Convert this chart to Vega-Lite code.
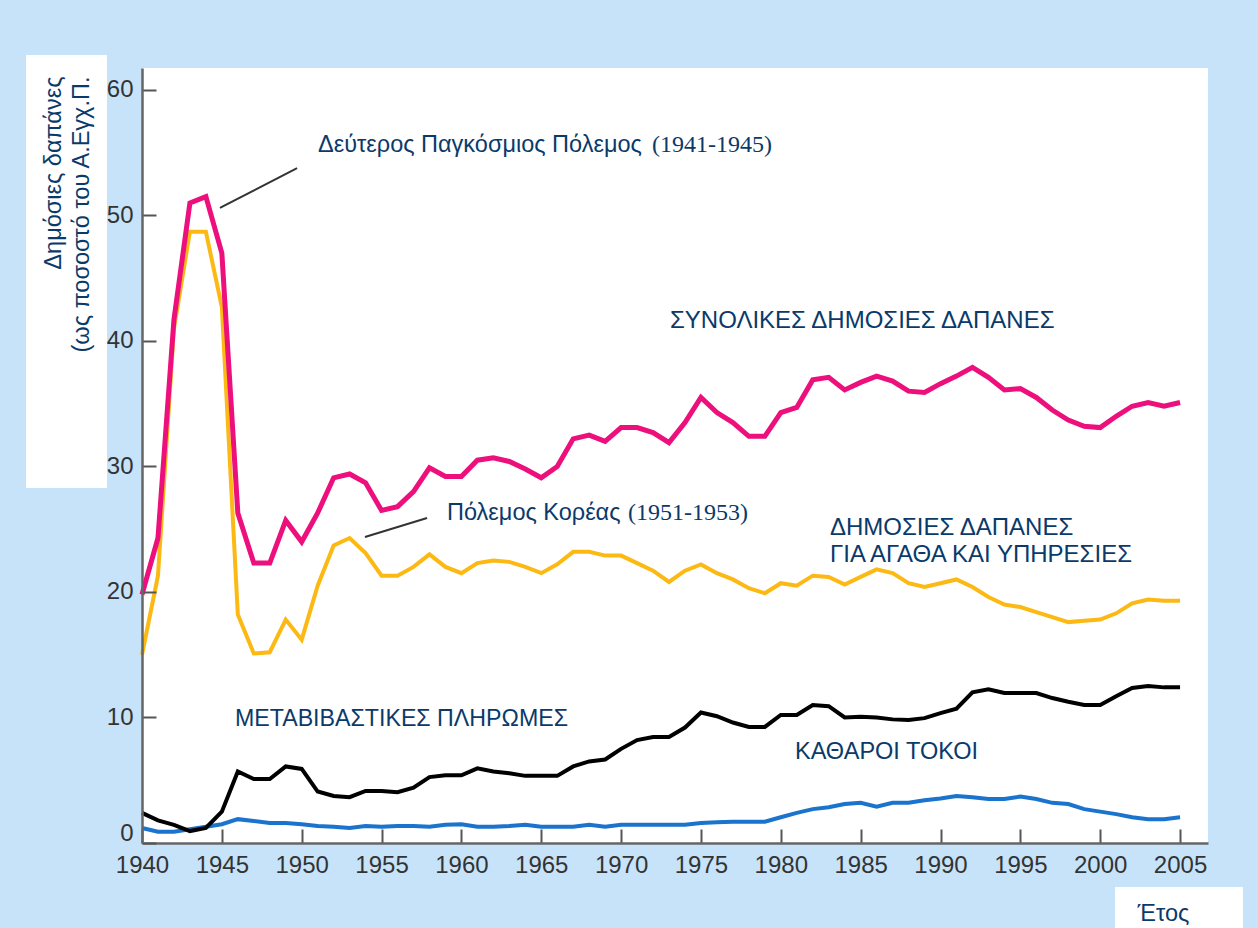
{
  "$schema": "https://vega.github.io/schema/vega-lite/v6.json",
  "width": 1066,
  "height": 775,
  "autosize": {"type": "none"},
  "padding": {"left": 142, "top": 68, "right": 50, "bottom": 85},
  "background": "#c6e3fa",
  "config": {"view": {"fill": "#ffffff", "stroke": null}},
  "datasets": {
    "spending": [
      {"year":1940,"total":19.8,"goods":15.0,"transfers":2.4,"interest":1.2},
      {"year":1941,"total":24.3,"goods":21.3,"transfers":1.8,"interest":0.9},
      {"year":1942,"total":41.7,"goods":41.0,"transfers":1.45,"interest":0.9},
      {"year":1943,"total":51.0,"goods":48.7,"transfers":0.95,"interest":1.1},
      {"year":1944,"total":51.5,"goods":48.7,"transfers":1.2,"interest":1.3},
      {"year":1945,"total":47.0,"goods":42.7,"transfers":2.5,"interest":1.5},
      {"year":1946,"total":26.3,"goods":18.2,"transfers":5.7,"interest":1.9},
      {"year":1947,"total":22.3,"goods":15.1,"transfers":5.1,"interest":1.75},
      {"year":1948,"total":22.3,"goods":15.2,"transfers":5.1,"interest":1.6},
      {"year":1949,"total":25.7,"goods":17.8,"transfers":6.1,"interest":1.6},
      {"year":1950,"total":24.0,"goods":16.2,"transfers":5.9,"interest":1.5},
      {"year":1951,"total":26.3,"goods":20.5,"transfers":4.1,"interest":1.35},
      {"year":1952,"total":29.1,"goods":23.7,"transfers":3.75,"interest":1.3},
      {"year":1953,"total":29.4,"goods":24.3,"transfers":3.65,"interest":1.2},
      {"year":1954,"total":28.7,"goods":23.1,"transfers":4.15,"interest":1.35},
      {"year":1955,"total":26.5,"goods":21.3,"transfers":4.15,"interest":1.3},
      {"year":1956,"total":26.8,"goods":21.3,"transfers":4.05,"interest":1.35},
      {"year":1957,"total":28.0,"goods":22.0,"transfers":4.4,"interest":1.35},
      {"year":1958,"total":29.9,"goods":23.0,"transfers":5.25,"interest":1.3},
      {"year":1959,"total":29.2,"goods":22.0,"transfers":5.4,"interest":1.45},
      {"year":1960,"total":29.2,"goods":21.5,"transfers":5.4,"interest":1.5},
      {"year":1961,"total":30.5,"goods":22.3,"transfers":5.95,"interest":1.3},
      {"year":1962,"total":30.7,"goods":22.5,"transfers":5.7,"interest":1.3},
      {"year":1963,"total":30.4,"goods":22.4,"transfers":5.55,"interest":1.35},
      {"year":1964,"total":29.8,"goods":22.0,"transfers":5.35,"interest":1.45},
      {"year":1965,"total":29.1,"goods":21.5,"transfers":5.35,"interest":1.3},
      {"year":1966,"total":30.0,"goods":22.2,"transfers":5.35,"interest":1.3},
      {"year":1967,"total":32.2,"goods":23.2,"transfers":6.1,"interest":1.3},
      {"year":1968,"total":32.5,"goods":23.2,"transfers":6.5,"interest":1.45},
      {"year":1969,"total":32.0,"goods":22.9,"transfers":6.65,"interest":1.3},
      {"year":1970,"total":33.1,"goods":22.9,"transfers":7.5,"interest":1.45},
      {"year":1971,"total":33.1,"goods":22.3,"transfers":8.2,"interest":1.45},
      {"year":1972,"total":32.7,"goods":21.7,"transfers":8.45,"interest":1.45},
      {"year":1973,"total":31.9,"goods":20.8,"transfers":8.45,"interest":1.45},
      {"year":1974,"total":33.5,"goods":21.7,"transfers":9.2,"interest":1.45},
      {"year":1975,"total":35.5,"goods":22.2,"transfers":10.4,"interest":1.6},
      {"year":1976,"total":34.3,"goods":21.5,"transfers":10.1,"interest":1.65},
      {"year":1977,"total":33.5,"goods":21.0,"transfers":9.6,"interest":1.7},
      {"year":1978,"total":32.4,"goods":20.3,"transfers":9.25,"interest":1.7},
      {"year":1979,"total":32.4,"goods":19.9,"transfers":9.25,"interest":1.7},
      {"year":1980,"total":34.3,"goods":20.7,"transfers":10.2,"interest":2.05},
      {"year":1981,"total":34.7,"goods":20.5,"transfers":10.2,"interest":2.4},
      {"year":1982,"total":36.9,"goods":21.3,"transfers":11.0,"interest":2.7},
      {"year":1983,"total":37.1,"goods":21.2,"transfers":10.9,"interest":2.85},
      {"year":1984,"total":36.1,"goods":20.6,"transfers":10.0,"interest":3.1},
      {"year":1985,"total":36.7,"goods":21.2,"transfers":10.05,"interest":3.2},
      {"year":1986,"total":37.2,"goods":21.8,"transfers":10.0,"interest":2.9},
      {"year":1987,"total":36.8,"goods":21.5,"transfers":9.85,"interest":3.2},
      {"year":1988,"total":36.0,"goods":20.7,"transfers":9.8,"interest":3.2},
      {"year":1989,"total":35.9,"goods":20.4,"transfers":9.95,"interest":3.4},
      {"year":1990,"total":36.6,"goods":20.7,"transfers":10.35,"interest":3.55},
      {"year":1991,"total":37.2,"goods":21.0,"transfers":10.7,"interest":3.75},
      {"year":1992,"total":37.9,"goods":20.4,"transfers":12.0,"interest":3.65},
      {"year":1993,"total":37.1,"goods":19.6,"transfers":12.25,"interest":3.5},
      {"year":1994,"total":36.1,"goods":19.0,"transfers":11.95,"interest":3.5},
      {"year":1995,"total":36.2,"goods":18.8,"transfers":11.95,"interest":3.7},
      {"year":1996,"total":35.5,"goods":18.4,"transfers":11.95,"interest":3.5},
      {"year":1997,"total":34.5,"goods":18.0,"transfers":11.55,"interest":3.2},
      {"year":1998,"total":33.7,"goods":17.6,"transfers":11.25,"interest":3.1},
      {"year":1999,"total":33.2,"goods":17.7,"transfers":11.0,"interest":2.7},
      {"year":2000,"total":33.1,"goods":17.8,"transfers":11.0,"interest":2.5},
      {"year":2001,"total":34.0,"goods":18.3,"transfers":11.7,"interest":2.3},
      {"year":2002,"total":34.8,"goods":19.1,"transfers":12.35,"interest":2.05},
      {"year":2003,"total":35.1,"goods":19.4,"transfers":12.5,"interest":1.9},
      {"year":2004,"total":34.8,"goods":19.3,"transfers":12.4,"interest":1.9},
      {"year":2005,"total":35.1,"goods":19.3,"transfers":12.4,"interest":2.05}
    ]
  },
  "layer": [
    {
      "data": {"values": [{}]},
      "mark": {"type": "rect", "fill": "#ffffff"},
      "encoding": {
        "x": {"datum": 1932.74, "type": "quantitative"},
        "x2": {"datum": 1937.81},
        "y": {"datum": 62.79, "type": "quantitative"},
        "y2": {"datum": 28.29}
      }
    },
    {
      "data": {"values": [{}]},
      "mark": {"type": "rect", "fill": "#ffffff"},
      "encoding": {
        "x": {"datum": 2000.93, "type": "quantitative"},
        "x2": {"datum": 2008.94},
        "y": {"datum": -3.51, "type": "quantitative"},
        "y2": {"datum": -6.77}
      }
    },
    {
      "data": {"name": "spending"},
      "mark": {"type": "line", "color": "#1a73cc", "strokeWidth": 4},
      "encoding": {
        "x": {
          "field": "year", "type": "quantitative",
          "scale": {"domain": [1940, 2006.75], "nice": false, "zero": false},
          "axis": {
            "values": [1940,1945,1950,1955,1960,1965,1970,1975,1980,1985,1990,1995,2000,2005],
            "format": "d",
            "title": "Έτος",
            "titleX": 995, "titleY": 70,
            "titleAlign": "left", "titleAngle": 0, "titleBaseline": "middle",
            "titleFont": "Liberation Sans", "titleFontSize": 23.5, "titleFontWeight": "normal", "titleColor": "#0a3a6a",
            "labelFont": "Liberation Sans", "labelFontSize": 24, "labelColor": "#333333",
            "labelPadding": 24, "labelFlush": false, "labelOverlap": false,
            "tickSize": -14, "tickColor": "#555555", "tickWidth": 2,
            "domainColor": "#666666", "domainWidth": 2.5,
            "grid": false, "zindex": 1
          }
        },
        "y": {
          "field": "interest", "type": "quantitative",
          "scale": {"domain": [0, 61.75], "nice": false},
          "axis": {
            "values": [0,10,20,30,40,50,60],
            "title": ["Δημόσιες δαπάνες", "(ως ποσοστό του Α.Εγχ.Π."],
            "titleX": -101, "titleY": 8,
            "titleAlign": "right", "titleAngle": -90, "titleBaseline": "top", "titleLineHeight": 28,
            "titleFont": "Liberation Sans", "titleFontSize": 23.5, "titleFontWeight": "normal", "titleColor": "#0a3a6a",
            "labelFont": "Liberation Sans", "labelFontSize": 24, "labelColor": "#333333",
            "labelPadding": 23, "labelFlush": false, "labelOverlap": false,
            "labelOffset": {"condition": {"test": "datum.value === 0", "value": -10}, "value": 0},
            "tickSize": -14, "tickColor": "#555555", "tickWidth": 2,
            "domainColor": "#666666", "domainWidth": 2.5,
            "grid": false, "zindex": 1
          }
        }
      }
    },
    {
      "data": {"name": "spending"},
      "mark": {"type": "line", "color": "#000000", "strokeWidth": 4},
      "encoding": {
        "x": {"field": "year", "type": "quantitative"},
        "y": {"field": "transfers", "type": "quantitative"}
      }
    },
    {
      "data": {"name": "spending"},
      "mark": {"type": "line", "color": "#fdb913", "strokeWidth": 4},
      "encoding": {
        "x": {"field": "year", "type": "quantitative"},
        "y": {"field": "goods", "type": "quantitative"}
      }
    },
    {
      "data": {"name": "spending"},
      "mark": {"type": "line", "color": "#ec0f7c", "strokeWidth": 5},
      "encoding": {
        "x": {"field": "year", "type": "quantitative"},
        "y": {"field": "total", "type": "quantitative"}
      }
    },
    {
      "data": {"values": [{}]},
      "mark": {"type": "rule", "color": "#333333", "strokeWidth": 2},
      "encoding": {
        "x": {"datum": 1944.88, "type": "quantitative"},
        "y": {"datum": 50.6, "type": "quantitative"},
        "x2": {"datum": 1949.71},
        "y2": {"datum": 53.78}
      }
    },
    {
      "data": {"values": [{}]},
      "mark": {"type": "rule", "color": "#333333", "strokeWidth": 2},
      "encoding": {
        "x": {"datum": 1953.96, "type": "quantitative"},
        "y": {"datum": 24.38, "type": "quantitative"},
        "x2": {"datum": 1957.85},
        "y2": {"datum": 25.9}
      }
    },
    {
      "data": {"values": [{}]},
      "mark": {"type": "text", "text": "Δεύτερος Παγκόσμιος Πόλεμος", "align": "left", "baseline": "middle", "font": "Liberation Sans", "fontSize": 23.5, "color": "#0a3a6a"},
      "encoding": {"x": {"datum": 1951.02, "type": "quantitative"}, "y": {"datum": 55.62, "type": "quantitative"}}
    },
    {
      "data": {"values": [{}]},
      "mark": {"type": "text", "text": "(1941-1945)", "align": "left", "baseline": "middle", "font": "Liberation Serif", "fontSize": 24, "color": "#0a3a6a"},
      "encoding": {"x": {"datum": 1971.93, "type": "quantitative"}, "y": {"datum": 55.62, "type": "quantitative"}}
    },
    {
      "data": {"values": [{}]},
      "mark": {"type": "text", "text": "Πόλεμος Κορέας", "align": "left", "baseline": "middle", "font": "Liberation Sans", "fontSize": 23.5, "color": "#0a3a6a"},
      "encoding": {"x": {"datum": 1959.1, "type": "quantitative"}, "y": {"datum": 26.29, "type": "quantitative"}}
    },
    {
      "data": {"values": [{}]},
      "mark": {"type": "text", "text": "(1951-1953)", "align": "left", "baseline": "middle", "font": "Liberation Serif", "fontSize": 24, "color": "#0a3a6a"},
      "encoding": {"x": {"datum": 1970.43, "type": "quantitative"}, "y": {"datum": 26.29, "type": "quantitative"}}
    },
    {
      "data": {"values": [{}]},
      "mark": {"type": "text", "text": "ΣΥΝΟΛΙΚΕΣ ΔΗΜΟΣΙΕΣ ΔΑΠΑΝΕΣ", "align": "left", "baseline": "middle", "font": "Liberation Sans", "fontSize": 24, "color": "#0a3a6a"},
      "encoding": {"x": {"datum": 1973.06, "type": "quantitative"}, "y": {"datum": 41.59, "type": "quantitative"}}
    },
    {
      "data": {"values": [{}]},
      "mark": {"type": "text", "text": "ΔΗΜΟΣΙΕΣ ΔΑΠΑΝΕΣ", "align": "left", "baseline": "middle", "font": "Liberation Sans", "fontSize": 24, "color": "#0a3a6a"},
      "encoding": {"x": {"datum": 1983.08, "type": "quantitative"}, "y": {"datum": 25.1, "type": "quantitative"}}
    },
    {
      "data": {"values": [{}]},
      "mark": {"type": "text", "text": "ΓΙΑ ΑΓΑΘΑ ΚΑΙ ΥΠΗΡΕΣΙΕΣ", "align": "left", "baseline": "middle", "font": "Liberation Sans", "fontSize": 24, "color": "#0a3a6a"},
      "encoding": {"x": {"datum": 1983.08, "type": "quantitative"}, "y": {"datum": 22.95, "type": "quantitative"}}
    },
    {
      "data": {"values": [{}]},
      "mark": {"type": "text", "text": "ΜΕΤΑΒΙΒΑΣΤΙΚΕΣ ΠΛΗΡΩΜΕΣ", "align": "left", "baseline": "middle", "font": "Liberation Sans", "fontSize": 23.2, "color": "#0a3a6a"},
      "encoding": {"x": {"datum": 1945.82, "type": "quantitative"}, "y": {"datum": 9.88, "type": "quantitative"}}
    },
    {
      "data": {"values": [{}]},
      "mark": {"type": "text", "text": "ΚΑΘΑΡΟΙ ΤΟΚΟΙ", "align": "left", "baseline": "middle", "font": "Liberation Sans", "fontSize": 23.5, "color": "#0a3a6a"},
      "encoding": {"x": {"datum": 1980.89, "type": "quantitative"}, "y": {"datum": 7.25, "type": "quantitative"}}
    }
  ]
}
